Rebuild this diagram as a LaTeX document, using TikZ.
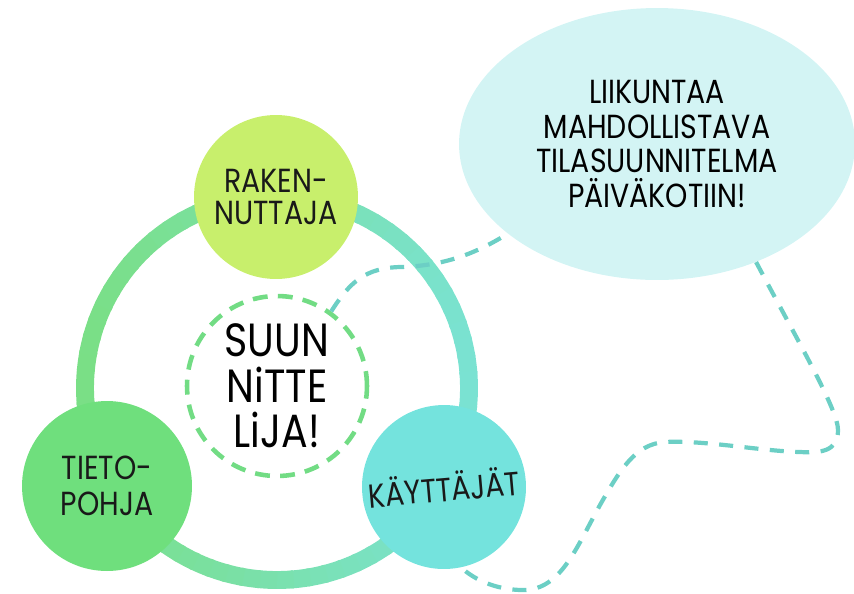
\documentclass[tikz,border=0pt]{standalone}
\usepackage{fontspec}
\setmainfont{Poppins}[FakeStretch=0.85]
\usetikzlibrary{shapes.geometric}

\definecolor{limefill}{HTML}{C8EF6C}
\definecolor{greenfill}{HTML}{6FDF7D}
\definecolor{tealfill}{HTML}{74E3DD}
\definecolor{bubblefill}{HTML}{D3F4F4}
\definecolor{ringgreen}{HTML}{7ADF86}
\definecolor{ringteal}{HTML}{7AE2D2}
\definecolor{dashgreen}{HTML}{72DC84}
\definecolor{dashteal}{HTML}{6CCFC5}

\tikzset{
  member/.style={circle,inner sep=0pt,align=center,text=black!90,font=\fontsize{19}{18}\selectfont},
  ring/.style={line width=10.2pt},
  link/.style={draw=dashteal,line width=2.4pt,dash pattern=on 8pt off 6.5pt}
}

\begin{document}
\begin{tikzpicture}[x=0.02cm,y=-0.02cm]
  \useasboundingbox (0,0) rectangle (854,593);
  % big ring, green on the left, teal on the right
  \foreach \a in {0,5,...,355}{
    \pgfmathsetmacro\p{50+50*cos(\a)}
    \draw[ring,draw=ringteal!\p!ringgreen] (277,388) ++(\a:192) arc[start angle=\a,end angle=\a+6,radius=192];
  }
  \node[member,fill=limefill,minimum size=3.28cm] (builder) at (276,197) {RAKEN-\\NUTTAJA};
  \node[member,fill=greenfill,minimum size=3.4cm,font=\fontsize{19}{20.5}\selectfont] (base) at (107,486) {TIETO-\\POHJA};
  \node[member,fill=tealfill,minimum size=3.28cm,rotate=5] (users) at (444,487) {KÄYTTÄJÄT};
  \node[circle,draw=dashgreen,line width=2.6pt,dash pattern=on 8.5pt off 5.8pt,minimum size=3.6cm,inner sep=0pt,
        align=center,font=\fontsize{26.5}{26}\selectfont] (core) at (277,386) {SUUN\\NiTTE\\LiJA!};
  \node[ellipse,fill=bubblefill,minimum width=7.92cm,minimum height=5.44cm,inner sep=0pt,
        align=center,font=\fontsize{19}{19.6}\selectfont] (goal) at (657,144)
        {LIIKUNTAA\\MAHDOLLISTAVA\\TILASUUNNITELMA\\PÄIVÄKOTIIN!};
  \draw[link] (core.54) .. controls (350,282) and (365,268) .. (400,267)
        .. controls (440,266) and (472,256) .. (goal.211);
  \draw[link] (goal.-50) .. controls (800,345) and (838,410) .. (838,430)
        .. controls (838,452) and (820,453) .. (800,452)
        .. controls (760,451) and (705,440) .. (665,442)
        .. controls (635,444) and (620,470) .. (600,505)
        .. controls (575,550) and (560,592) .. (520,590)
        .. controls (495,589) and (475,580) .. (users.-83);
\end{tikzpicture}
\end{document}
